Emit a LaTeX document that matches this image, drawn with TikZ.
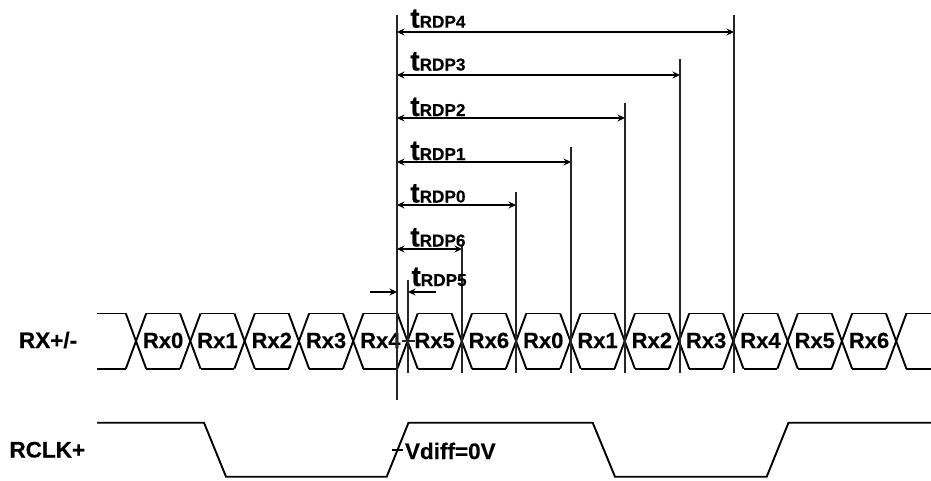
\documentclass[tikz,border=0pt]{standalone}
\usepackage{fontspec}
\setmainfont[BoldFeatures={FakeBold=0.35}]{Liberation Sans}
\usetikzlibrary{arrows.meta}
\tikzset{
  wave/.style={line width=1.9pt,black,line join=miter},
  guide/.style={line width=1.5pt,black!85},
  span/.style={line width=1.5pt,black,{Stealth[length=7.5pt,width=7pt]}-{Stealth[length=7.5pt,width=7pt]}},
  pointer/.style={line width=1.4pt,black,-{Stealth[length=7.5pt,width=7pt]}},
  lab/.style={inner sep=0pt,outer sep=0pt,anchor=base west,font=\bfseries\fontsize{22.5}{24}\selectfont},
  cell/.style={inner sep=0pt,outer sep=0pt,anchor=base,font=\bfseries\fontsize{22}{24}\selectfont},
  tlab/.style={inner sep=0pt,outer sep=0pt,anchor=base west,text=black},
}
\newcommand{\tsym}[1]{{\bfseries\fontsize{28}{28}\selectfont t}{\bfseries\fontsize{17.2}{18}\selectfont RDP#1}}
\begin{document}
\begin{tikzpicture}[x=1pt,y=-1pt]
\useasboundingbox (0,0) rectangle (931,480);
\fill[white] (0,0) rectangle (931,480);
% data eye
\def\ty{313.5}\def\by{368.7}\def\hw{10.2}
\coordinate (dS) at (97,\ty);
\coordinate (dE) at (931,\ty);
\coordinate (bS) at (97,\by);
\coordinate (bE) at (931,\by);
\foreach \i in {0,...,14}{
  \pgfmathsetmacro{\c}{136+54.3*\i}
  \coordinate (tl\i) at (\c-\hw,\ty);
  \coordinate (tr\i) at (\c+\hw,\ty);
  \coordinate (bl\i) at (\c-\hw,\by);
  \coordinate (br\i) at (\c+\hw,\by);
  \draw[wave] (tl\i) -- (br\i);
  \draw[wave] (bl\i) -- (tr\i);
}
\foreach \i [evaluate=\i as \j using int(\i+1)] in {0,...,13}{
  \draw[wave] (tr\i) -- (tl\j);
  \draw[wave] (br\i) -- (bl\j);
}
\draw[wave] (dS) -- (tl0);
\draw[wave] (bS) -- (bl0);
\draw[wave] (tr14) -- (dE);
\draw[wave] (br14) -- (bE);
% cell labels
\foreach \i/\t in {0/Rx0,1/Rx1,2/Rx2,3/Rx3,4/Rx4,5/Rx5,6/Rx6,7/Rx0,8/Rx1,9/Rx2,10/Rx3,11/Rx4,12/Rx5,13/Rx6}{
  \pgfmathsetmacro{\c}{136+54.3*\i+27.15}
  \node[cell] (cell\i) at (\c,348) {\t};
}
% clock
\coordinate (c0) at (97,422.7);
\coordinate (c1) at (204,422.7);
\coordinate (c2) at (226,476.7);
\coordinate (c3) at (386.7,476.7);
\coordinate (c4) at (408.5,422.7);
\coordinate (c5) at (592.7,422.7);
\coordinate (c6) at (615,476.7);
\coordinate (c7) at (766.7,476.7);
\coordinate (c8) at (788.5,422.7);
\coordinate (c9) at (931,422.7);
\draw[wave] (c0)--(c1)--(c2)--(c3)--(c4)--(c5)--(c6)--(c7)--(c8)--(c9);
% guides
\coordinate (m0) at (397,15);
\coordinate (m1) at (397,400);
\draw[guide] (m0) -- (m1);
\foreach \n/\x/\top in {p5/408/280,p6/462/245,p0/516/191.5,p1/571/147,p2/625/103,p3/680/59,p4/734/15}{
  \coordinate (\n t) at (\x,\top);
  \coordinate (\n b) at (\x,373);
  \draw[guide] (\n t) -- (\n b);
}
% spans
\foreach \n/\y in {p4/32,p3/75,p2/118,p1/162,p0/205,p6/249}{
  \coordinate (\n a) at (397,\y);
  \coordinate (\n e) at (\n t |- \n a);
  \draw[span] (\n a) -- (\n e);
}
% labels of spans
\node[tlab] (l4) at (410.3,27.7) {\tsym{4}};
\node[tlab] (l3) at (410.3,70.5) {\tsym{3}};
\node[tlab] (l2) at (410.3,116) {\tsym{2}};
\node[tlab] (l1) at (410.3,160) {\tsym{1}};
\node[tlab] (l0) at (410.3,202.5) {\tsym{0}};
\node[tlab] (l6) at (410.3,246.5) {\tsym{6}};
\node[tlab] (l5) at (411.5,286) {\tsym{5}};
% small pointers
\coordinate (a1) at (370,292);
\coordinate (a2) at (397,292);
\coordinate (a3) at (436,292);
\coordinate (a4) at (408,292);
\draw[pointer] (a1) -- (a2);
\draw[pointer] (a3) -- (a4);
% crossing tick
\coordinate (x1) at (402,341);
\coordinate (x2) at (415,341);
\draw[guide] (x1) -- (x2);
% Vdiff tick
\coordinate (v1) at (392,450);
\coordinate (v2) at (403,450);
\draw[line width=1.2pt,black] (v1) -- (v2);
% text labels
\node[lab] (rx) at (19,348) {RX+/-};
\node[lab] (rclk) at (9.5,457.5) {RCLK+};
\node[lab] (vd) at (405,459) {Vdiff=0V};
\end{tikzpicture}
\end{document}
